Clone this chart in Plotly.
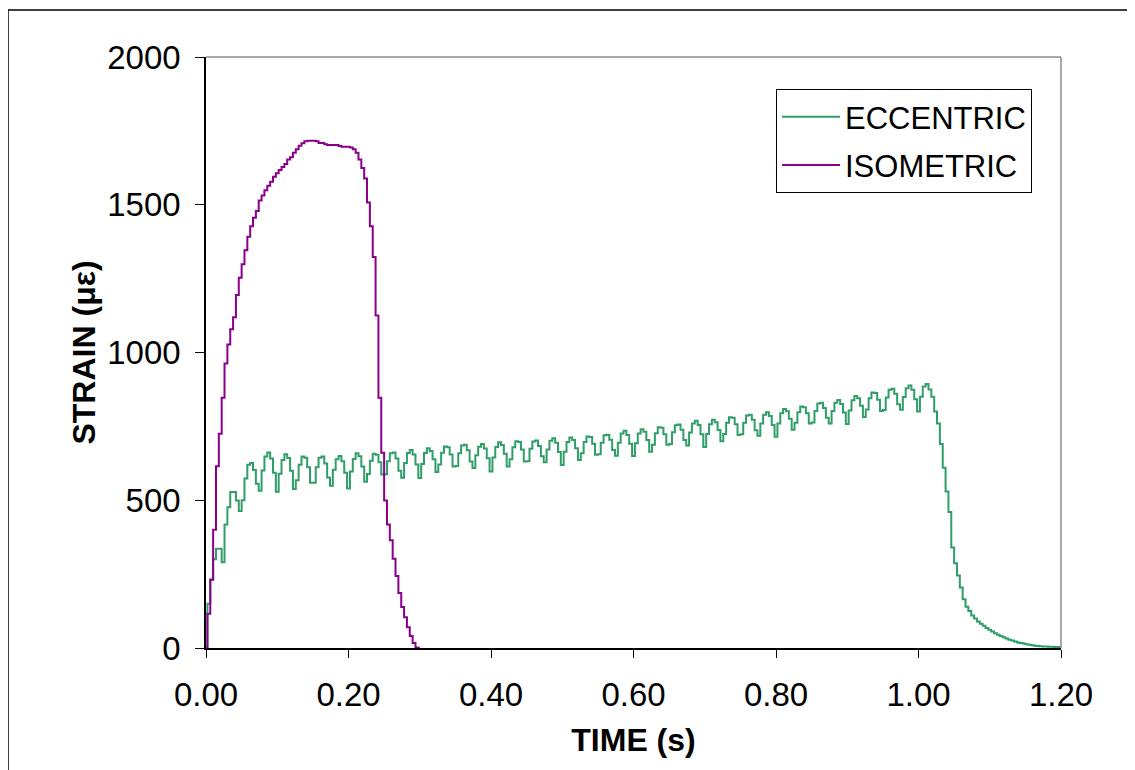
import plotly.graph_objects as go

# ---------------- data ----------------
SAMPLE_PERIOD = 0.004  # s, sampling interval of the strain records

ECCENTRIC = [
    0, 150, 230, 300, 336, 336, 290, 418, 476, 528, 528, 499, 464,
    500, 574, 620, 626, 602, 556,
    532, 601, 648, 662, 641, 593,
    529, 590, 636, 656, 643, 600, 538,
    568, 620, 648, 644, 612, 559,
    559, 612, 644, 648, 624, 577,
    549, 603, 639, 650, 632, 593,
    540, 597, 640, 659, 649, 614, 563,
    589, 634, 657, 654, 629, 587,
    588, 632, 659, 662, 641, 600,
    576, 626, 660, 670, 655, 621,
    575, 623, 660, 676, 667, 639, 596,
    621, 661, 682, 679, 655, 614,
    616, 659, 685, 688, 669, 631,
    609, 652, 681, 690, 675, 642,
    597, 645, 680, 696, 687, 657, 614,
    639, 679, 700, 697, 672, 631,
    632, 674, 699, 702, 684, 649,
    629, 672, 701, 710, 695, 663,
    619, 664, 697, 712, 704, 676, 636,
    659, 697, 716, 714, 691, 654,
    656, 695, 720, 722, 705, 670,
    651, 695, 726, 735, 721, 691,
    650, 693, 726, 740, 732, 704, 664,
    688, 727, 747, 745, 723, 688,
    690, 730, 754, 756, 739, 704,
    685, 729, 760, 769, 755, 723,
    680, 724, 757, 772, 764, 738, 700,
    724, 762, 781, 779, 757, 721,
    723, 762, 787, 789, 772, 737,
    718, 760, 789, 798, 785, 755,
    715, 760, 794, 809, 801, 776, 739,
    762, 798, 817, 815, 794, 760,
    763, 802, 827, 830, 812, 779,
    760, 802, 830, 839, 826, 797,
    758, 804, 838, 853, 845, 820, 782,
    807, 845, 865, 863, 840, 802,
    805, 848, 874, 877, 860, 825,
    806, 849, 879, 888, 874, 842,
    800, 850, 885, 893, 875, 850, 800, 760, 690, 610, 530, 460,
    340, 287, 245, 205, 165, 140, 125, 110, 100, 90, 82, 75,
    68, 62, 56, 50, 45, 41, 36, 32, 28, 25, 22, 19,
    17, 15, 13, 11, 9, 8, 7, 6, 5, 5, 4, 4, 3, 3, 2,
]

ISOMETRIC = [
    0, 116, 232, 400, 615, 725, 847, 963, 1027, 1079, 1119, 1195,
    1253, 1299, 1346, 1392, 1427, 1456, 1479, 1514, 1531, 1549, 1564, 1578,
    1595, 1607, 1618, 1628, 1638, 1653, 1661, 1676, 1688, 1700, 1708, 1715,
    1717, 1717, 1717, 1715, 1709, 1709, 1705, 1702, 1702, 1702, 1702, 1699,
    1696, 1696, 1696, 1694, 1688, 1676, 1653, 1624, 1589, 1508, 1427, 1323,
    1125, 847, 661, 499, 418, 365, 302, 244, 186, 139, 104, 70,
    41, 17, 2, 0,
]

SERIES_NAMES = ["ECCENTRIC", "ISOMETRIC"]
X_TICKS = [0.0, 0.2, 0.4, 0.6, 0.8, 1.0, 1.2]
Y_TICKS = [0, 500, 1000, 1500, 2000]

# ---------------- layout geometry (page pixels) ----------------
PAGE_W, PAGE_H = 1135, 770
BODY = 8                      # default body margin of the html page
W, H = PAGE_W - BODY, PAGE_H - BODY
L, R, T, B = 206, 1061, 57, 648   # plot area in page pixels
FONT = "Liberation Sans, Arial, sans-serif"


def px_x(p):
    return (p - L) / (R - L)


def px_y(p):
    return (B - p) / (B - T)


fig = go.Figure()
fig.add_trace(go.Scatter(
    y=ECCENTRIC, x0=0, dx=SAMPLE_PERIOD, mode="lines", name=SERIES_NAMES[0],
    line=dict(color="#2f9e68", width=2, shape="hvh"), legendgroup="a",
))
fig.add_trace(go.Scatter(
    y=ISOMETRIC, x0=0, dx=SAMPLE_PERIOD, mode="lines", name=SERIES_NAMES[1],
    line=dict(color="#8b008b", width=2, shape="hvh"), legendgroup="b",
))

fig.update_layout(
    width=W, height=H,
    margin=dict(l=L - BODY, r=PAGE_W - R, t=T - BODY, b=PAGE_H - B, pad=0),
    paper_bgcolor="white", plot_bgcolor="white",
    font=dict(family=FONT, size=32, color="black"),
    showlegend=True,
    legend=dict(
        x=px_x(776), y=px_y(89), xanchor="left", yanchor="top",
        bgcolor="white", bordercolor="black", borderwidth=1,
        font=dict(family=FONT, size=31, color="black"),
        tracegroupgap=5, traceorder="grouped", itemwidth=58,
    ),
    xaxis=dict(
        range=[0, 1.2], tickvals=X_TICKS, tickformat=".2f",
        showgrid=False, zeroline=False,
        showline=True, linecolor="black", linewidth=1.5,
        ticks="outside", ticklen=8, tickcolor="black", tickwidth=1,
        ticklabelstandoff=9,
        tickfont=dict(family=FONT, size=33),
        title=dict(text="<b>TIME (s)</b>", font=dict(family=FONT, size=32), standoff=16),
    ),
    yaxis=dict(
        range=[0, 2000], tickvals=Y_TICKS,
        showgrid=False, zeroline=False,
        showline=True, linecolor="black", linewidth=1.5,
        ticks="outside", ticklen=9, tickcolor="black", tickwidth=1,
        ticklabelstandoff=8,
        tickfont=dict(family=FONT, size=33),
        title=dict(text="<b>STRAIN (με)</b>", font=dict(family=FONT, size=32), standoff=2),
    ),
    shapes=[
        dict(type="line", xref="paper", yref="paper", x0=0, x1=1, y0=1, y1=1,
             line=dict(color="#8c8c8c", width=1.5)),
        dict(type="line", xref="paper", yref="paper", x0=1, x1=1, y0=0, y1=1,
             line=dict(color="#8c8c8c", width=1.5)),
        dict(type="rect", xref="paper", yref="paper",
             x0=px_x(8), x1=px_x(1200), y0=px_y(820), y1=px_y(10),
             line=dict(color="black", width=1.5), layer="below"),
    ],
)

fig.write_html("out.html")
